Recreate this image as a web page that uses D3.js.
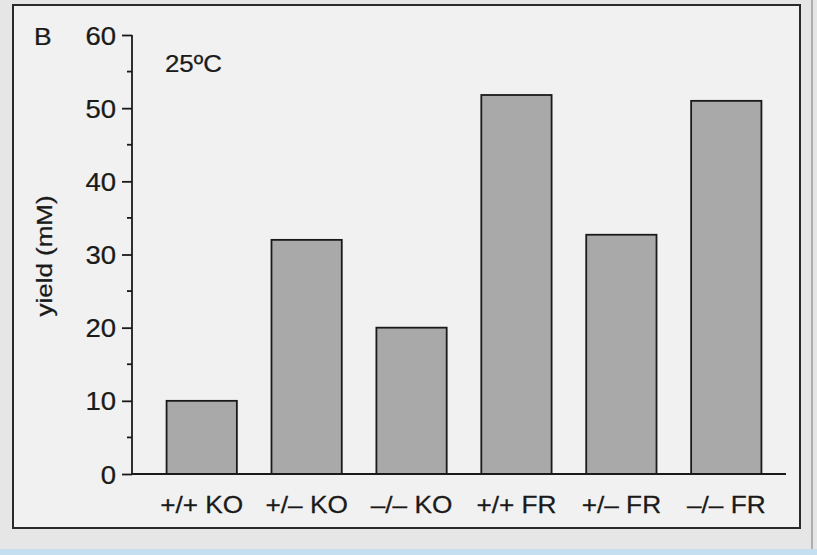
<!DOCTYPE html>
<html>
<head>
<meta charset="utf-8">
<script src="https://cdn.jsdelivr.net/npm/d3@7"></script>
<style>
  html, body { margin: 0; padding: 0; background: #e9e9e9; }
  svg { display: block; }
  text { stroke: #1a1a1a; stroke-width: 0.25px; }
</style>
</head>
<body>
<svg id="chart" width="817" height="555"></svg>
<script>
// values
const genotypes = ['+/+ KO', '+/\u2013 KO', '\u2013/\u2013 KO', '+/+ FR', '+/\u2013 FR', '\u2013/\u2013 FR'];
const yieldMM = [10, 32, 20, 51.8, 32.7, 51];
const majorTicks = [0, 10, 20, 30, 40, 50, 60];
const minorTicks = [5, 15, 25, 35, 45, 55];

// the scan is a bit wider than the font metrics, so text gets a horizontal stretch
const stretch = 1.1;
const ink = '#1a1a1a';

const svg = d3.select('#chart')
    .style('font-family', "'Liberation Sans', Arial, Helvetica, sans-serif");

// page + frame
svg.append('rect').attr('width', 817).attr('height', 555).attr('fill', '#e6e6e6');
svg.append('rect')
    .attr('x', 13).attr('y', 5).attr('width', 787).attr('height', 523)
    .attr('fill', '#f1f1f1').attr('stroke', '#2a2a2a').attr('stroke-width', 2);
svg.append('line').attr('x1', 812).attr('x2', 812).attr('y1', 0).attr('y2', 550)
    .attr('stroke', '#9a9a9a').attr('stroke-width', 1.5);
svg.append('rect').attr('x', 0).attr('y', 549).attr('width', 817).attr('height', 6)
    .attr('fill', '#c5def0');

const x = d3.scaleBand()
    .domain(genotypes)
    .range([133, 795])
    .paddingInner(0.33)
    .paddingOuter(0.32);

const y = d3.scaleLinear().domain([0, 60]).range([474, 35]);

// bars
svg.append('g').selectAll('rect')
  .data(genotypes)
  .enter().append('rect')
    .attr('x', d => x(d))
    .attr('y', (d, i) => y(yieldMM[i]))
    .attr('width', x.bandwidth())
    .attr('height', (d, i) => y(0) - y(yieldMM[i]))
    .attr('fill', '#a9a9a9')
    .attr('stroke', ink)
    .attr('stroke-width', 1.8);

// y axis
const yAxis = svg.append('g').attr('transform', 'translate(132,0)');
yAxis.call(d3.axisLeft(y).tickValues(majorTicks).tickSize(10).tickPadding(6));
yAxis.selectAll('.tick text')
    .attr('x', -16 / stretch)
    .attr('dy', '0.36em')
    .attr('transform', `scale(${stretch},1)`)
    .style('font-size', '25px')
    .attr('fill', ink);
yAxis.selectAll('line, path').attr('stroke', ink).attr('stroke-width', 1.8);
yAxis.select('.domain').attr('d', `M0,${y(60)}V${y(0)}`);
yAxis.selectAll('.minor').data(minorTicks).enter().append('line')
    .attr('class', 'minor')
    .attr('x1', -5).attr('x2', 0)
    .attr('y1', d => y(d)).attr('y2', d => y(d))
    .attr('stroke', ink).attr('stroke-width', 1.8);

// baseline
svg.append('line')
    .attr('x1', 132).attr('x2', 786)
    .attr('y1', y(0)).attr('y2', y(0))
    .attr('stroke', ink).attr('stroke-width', 2);

// category labels
svg.append('g').selectAll('text')
  .data(genotypes)
  .enter().append('text')
    .attr('transform', d => `translate(${x(d) + x.bandwidth() / 2},513) scale(${stretch + 0.04},1)`)
    .attr('text-anchor', 'middle')
    .style('font-size', '23px')
    .attr('fill', ink)
    .text(d => d);

// axis title
svg.append('text')
    .attr('transform', 'translate(52,256) rotate(-90) scale(1.18,1)')
    .attr('text-anchor', 'middle')
    .style('font-size', '22px')
    .attr('fill', ink)
    .text('yield (mM)');

svg.append('text').attr('transform', 'translate(34,45) scale(1.1,1)')
    .style('font-size', '24px').attr('fill', ink).text('B');
svg.append('text').attr('transform', 'translate(165,72) scale(1.1,1)')
    .style('font-size', '23.5px').attr('fill', ink).text('25\u00baC');
</script>
</body>
</html>
